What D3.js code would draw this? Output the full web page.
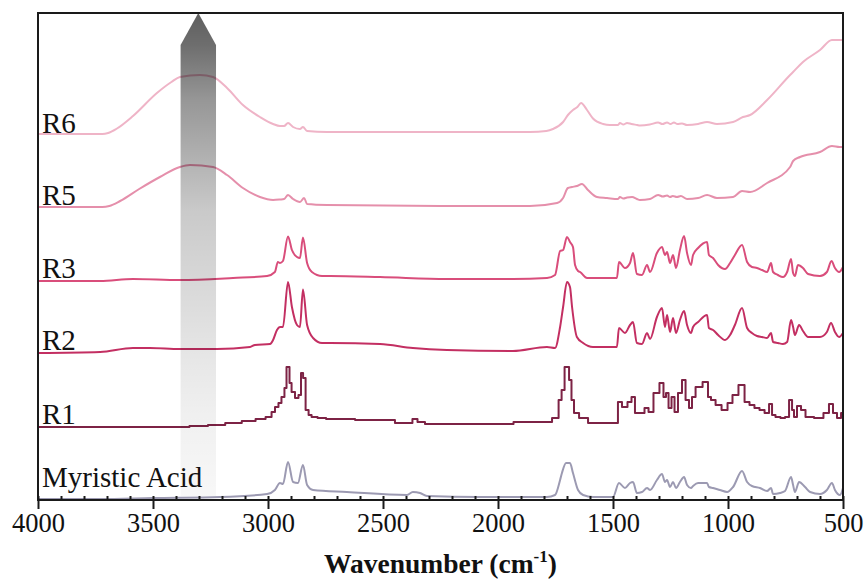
<!DOCTYPE html>
<html>
<head>
<meta charset="utf-8">
<script src="https://cdn.jsdelivr.net/npm/d3@7"></script>
<style>
  html, body { margin: 0; padding: 0; background: #fff; }
  svg { display: block; }
  text { font-family: "Liberation Serif", "Times New Roman", serif; fill: #111; }
</style>
</head>
<body>
<svg id="chart" width="865" height="582"></svg>
<script>
// FTIR spectra, wavenumber (cm-1) vs. absorbance (a.u.), each trace stacked on its own baseline.
const seriesNames = ["Myristic Acid", "R1", "R2", "R3", "R5", "R6"];
const seriesOffsets = [0.01, 0.73, 1.47, 2.19, 2.93, 3.66];
const seriesColors = ["#9c9ab2", "#7d2345", "#c32f62", "#d94d7b", "#e58fab", "#efb4c7"];

const majorTicks = [4000, 3500, 3000, 2500, 2000, 1500, 1000, 500];

const specMA = [[4000,0],[3730,0],[3500,0.01],[3209,0.02],[3004,0.05],[2970,0.09],[2948,0.16],[2935,0.15],[2913,0.37],[2891,0.17],[2870,0.16],[2848,0.34],[2830,0.14],[2804,0.09],[2657,0.07],[2396,0.04],[2370,0.07],[2339,0.06],[2309,0.03],[2078,0.02],[1787,0.02],[1752,0.04],[1730,0.19],[1722,0.26],[1704,0.36],[1687,0.36],[1674,0.26],[1652,0.09],[1630,0.04],[1587,0.02],[1500,0.02],[1474,0.16],[1448,0.11],[1426,0.16],[1413,0.17],[1396,0.06],[1374,0.07],[1352,0.11],[1339,0.09],[1309,0.19],[1287,0.25],[1274,0.17],[1265,0.19],[1252,0.12],[1239,0.17],[1226,0.11],[1209,0.17],[1191,0.22],[1178,0.14],[1161,0.11],[1152,0.13],[1130,0.16],[1091,0.16],[1083,0.12],[1065,0.11],[1035,0.09],[1004,0.07],[978,0.12],[939,0.28],[917,0.17],[896,0.13],[861,0.11],[830,0.08],[813,0.11],[804,0.05],[774,0.06],[752,0.08],[726,0.22],[717,0.14],[709,0.07],[691,0.17],[665,0.12],[643,0.07],[600,0.05],[570,0.09],[548,0.16],[535,0.09],[513,0.04],[500,0.11]];

const specR1 = [[4000,0],[3730,0],[3383,0],[3300,0.01],[3222,0.02],[3150,0.04],[3078,0.06],[3030,0.08],[2991,0.10],[2978,0.15],[2961,0.20],[2948,0.24],[2935,0.30],[2922,0.39],[2917,0.60],[2909,0.60],[2904,0.44],[2891,0.35],[2874,0.29],[2861,0.32],[2852,0.54],[2843,0.49],[2830,0.17],[2817,0.12],[2804,0.10],[2765,0.09],[2730,0.08],[2513,0.07],[2383,0.04],[2361,0.08],[2339,0.05],[2296,0.03],[2078,0.03],[1787,0.05],[1743,0.09],[1730,0.27],[1717,0.37],[1704,0.60],[1695,0.60],[1687,0.47],[1674,0.27],[1665,0.14],[1630,0.09],[1587,0.04],[1483,0.04],[1474,0.25],[1448,0.20],[1426,0.25],[1413,0.30],[1396,0.14],[1374,0.14],[1352,0.19],[1339,0.15],[1309,0.34],[1287,0.44],[1274,0.30],[1265,0.34],[1252,0.19],[1239,0.30],[1226,0.15],[1209,0.34],[1191,0.47],[1178,0.27],[1161,0.19],[1152,0.30],[1130,0.40],[1091,0.45],[1083,0.30],[1065,0.27],[1043,0.22],[1013,0.17],[991,0.24],[970,0.32],[939,0.42],[917,0.25],[896,0.22],[874,0.19],[852,0.17],[830,0.14],[813,0.23],[804,0.12],[783,0.10],[761,0.09],[743,0.10],[726,0.27],[717,0.17],[709,0.10],[691,0.21],[674,0.17],[652,0.10],[600,0.09],[570,0.14],[552,0.23],[535,0.14],[517,0.09],[500,0.14]];

const specR2 = [[4000,0],[3730,0.01],[3587,0.05],[3513,0.05],[3383,0.04],[3222,0.04],[3078,0.06],[3057,0.08],[2991,0.09],[2978,0.13],[2961,0.23],[2948,0.26],[2935,0.26],[2913,0.71],[2896,0.46],[2874,0.28],[2861,0.26],[2848,0.635],[2830,0.28],[2804,0.15],[2765,0.10],[2730,0.10],[2513,0.09],[2370,0.05],[2222,0.03],[1935,0.02],[1787,0.06],[1752,0.05],[1730,0.26],[1717,0.46],[1700,0.71],[1687,0.66],[1678,0.46],[1657,0.16],[1630,0.10],[1587,0.06],[1483,0.06],[1474,0.25],[1448,0.20],[1426,0.28],[1413,0.31],[1396,0.10],[1374,0.09],[1352,0.20],[1339,0.14],[1309,0.36],[1287,0.45],[1274,0.26],[1265,0.38],[1252,0.21],[1239,0.35],[1226,0.20],[1209,0.33],[1191,0.42],[1178,0.28],[1161,0.20],[1152,0.26],[1130,0.31],[1091,0.38],[1083,0.25],[1065,0.23],[1043,0.18],[1013,0.13],[991,0.18],[970,0.28],[939,0.45],[917,0.25],[896,0.20],[874,0.17],[852,0.16],[830,0.15],[813,0.20],[804,0.11],[783,0.10],[761,0.09],[743,0.11],[726,0.33],[717,0.26],[709,0.18],[691,0.28],[674,0.22],[652,0.16],[600,0.16],[570,0.21],[552,0.30],[535,0.21],[517,0.16],[500,0.20]];

const specR3 = [[4000,0],[3730,0],[3587,0.02],[3383,0.01],[3152,0.03],[3004,0.05],[2970,0.09],[2957,0.19],[2948,0.18],[2935,0.20],[2913,0.445],[2896,0.31],[2874,0.24],[2861,0.23],[2848,0.435],[2830,0.18],[2809,0.09],[2765,0.05],[2730,0.05],[2513,0.04],[2222,0.02],[1935,0.02],[1787,0.03],[1752,0.06],[1730,0.30],[1717,0.31],[1700,0.44],[1687,0.39],[1674,0.34],[1665,0.16],[1652,0.10],[1643,0.09],[1613,0.03],[1483,0.03],[1474,0.19],[1448,0.13],[1426,0.18],[1413,0.28],[1396,0.07],[1374,0.06],[1352,0.16],[1339,0.09],[1309,0.28],[1287,0.34],[1274,0.26],[1265,0.29],[1252,0.18],[1239,0.26],[1226,0.13],[1209,0.31],[1191,0.45],[1178,0.28],[1161,0.16],[1152,0.26],[1130,0.33],[1091,0.39],[1083,0.26],[1065,0.23],[1043,0.16],[1013,0.12],[991,0.18],[970,0.26],[939,0.36],[917,0.19],[896,0.14],[874,0.13],[852,0.11],[830,0.09],[813,0.18],[804,0.09],[783,0.06],[761,0.04],[743,0.09],[726,0.22],[717,0.08],[709,0.05],[696,0.16],[674,0.13],[652,0.07],[600,0.05],[570,0.09],[550,0.20],[535,0.13],[517,0.09],[500,0.14]];

const specR5 = [[4000,0],[3720,0],[3690,0.01],[3643,0.06],[3560,0.18],[3470,0.30],[3383,0.40],[3339,0.42],[3239,0.40],[3178,0.32],[3109,0.19],[3035,0.10],[2978,0.07],[2948,0.075],[2930,0.08],[2913,0.12],[2891,0.08],[2861,0.05],[2843,0.09],[2830,0.03],[2743,0.02],[2252,0.01],[1861,0.01],[1743,0.04],[1717,0.09],[1696,0.19],[1678,0.20],[1657,0.21],[1635,0.23],[1609,0.17],[1570,0.10],[1526,0.09],[1478,0.08],[1470,0.10],[1455,0.085],[1439,0.095],[1417,0.10],[1396,0.08],[1383,0.07],[1339,0.08],[1304,0.12],[1283,0.105],[1265,0.115],[1252,0.10],[1240,0.11],[1222,0.10],[1205,0.11],[1178,0.08],[1130,0.09],[1091,0.12],[1048,0.09],[978,0.10],[939,0.16],[904,0.15],[830,0.24],[730,0.40],[717,0.46],[687,0.50],[600,0.55],[548,0.61],[515,0.60],[500,0.60]];

const specR6 = [[4000,0],[3720,0],[3695,0.01],[3660,0.05],[3587,0.18],[3483,0.41],[3420,0.52],[3383,0.57],[3296,0.59],[3239,0.57],[3178,0.46],[3109,0.29],[3035,0.17],[2978,0.10],[2948,0.08],[2930,0.08],[2913,0.11],[2891,0.07],[2861,0.05],[2848,0.07],[2830,0.03],[2743,0.02],[2252,0.02],[1861,0.02],[1790,0.03],[1761,0.05],[1717,0.12],[1696,0.19],[1674,0.24],[1655,0.27],[1639,0.31],[1613,0.24],[1587,0.155],[1543,0.10],[1513,0.09],[1478,0.09],[1470,0.11],[1455,0.095],[1439,0.11],[1420,0.10],[1395,0.09],[1383,0.085],[1340,0.095],[1304,0.115],[1285,0.10],[1265,0.115],[1250,0.10],[1235,0.115],[1220,0.10],[1200,0.105],[1178,0.09],[1130,0.10],[1091,0.12],[1048,0.10],[978,0.12],[935,0.17],[904,0.19],[830,0.34],[730,0.59],[717,0.62],[674,0.72],[600,0.84],[548,0.94],[500,0.94]];

const spectra = [specMA, specR1, specR2, specR3, specR5, specR6];

// ---- layout ----
const svg = d3.select("#chart");
const plotLeft = 38, plotRight = 843, plotTop = 13, plotBottom = 500;

const x = d3.scaleLinear().domain([4000, 500]).range([plotLeft, plotRight]);
const y = d3.scaleLinear().domain([0, 4.87]).range([plotBottom, plotTop]);

// shaded arrow gradient (drawn over the traces, semi-transparent)
const defs = svg.append("defs");
const grad = defs.append("linearGradient")
  .attr("id", "arrowGrad")
  .attr("gradientUnits", "userSpaceOnUse")
  .attr("x1", 0).attr("x2", 0).attr("y1", plotTop).attr("y2", 496);
[[0, 0.63], [0.066, 0.57], [0.18, 0.41], [0.353, 0.26], [0.41, 0.21], [0.595, 0.14], [0.734, 0.09], [0.83, 0.06], [1, 0.03]]
  .forEach(([o, a]) => grad.append("stop").attr("offset", o).attr("stop-color", "#000").attr("stop-opacity", a));

// traces
const curves = [d3.curveMonotoneX, d3.curveStep, d3.curveMonotoneX, d3.curveMonotoneX, d3.curveMonotoneX, d3.curveMonotoneX];
spectra.forEach((data, i) => {
  const line = d3.line()
    .x(d => x(d[0]))
    .y(d => y(d[1] + seriesOffsets[i]))
    .curve(curves[i]);
  svg.append("path")
    .datum(data)
    .attr("d", line)
    .attr("fill", "none")
    .attr("stroke", seriesColors[i])
    .attr("stroke-width", 2)
    .attr("stroke-linejoin", "round");
});

// upward arrow over the O-H stretching region
const aL = x(3380), aR = x(3226), aMid = (aL + aR) / 2;
svg.append("path")
  .attr("d", `M${aL},496 L${aL},45 L${aMid},${plotTop} L${aR},45 L${aR},496 Z`)
  .attr("fill", "url(#arrowGrad)");

// series labels
const labelY = [487, 424, 350, 278, 205, 133];
seriesNames.forEach((name, i) => {
  svg.append("text")
    .attr("x", 42)
    .attr("y", labelY[i])
    .attr("font-size", 29)
    .text(name);
});

// frame
svg.append("rect")
  .attr("x", plotLeft).attr("y", plotTop)
  .attr("width", plotRight - plotLeft).attr("height", plotBottom - plotTop)
  .attr("fill", "none").attr("stroke", "#1a1a1a").attr("stroke-width", 2);

// inner ticks every 100 cm-1
const minorTicks = d3.range(4000, 499, -100);
svg.append("g")
  .attr("transform", `translate(0,${plotBottom})`)
  .call(d3.axisBottom(x).tickValues(minorTicks).tickSize(-4).tickFormat(""))
  .call(g => g.select(".domain").remove())
  .call(g => g.selectAll("line").attr("stroke", "#1a1a1a").attr("stroke-width", 2));

// major ticks crossing the axis, with labels
const xAxis = svg.append("g")
  .attr("transform", `translate(0,${plotBottom})`)
  .call(d3.axisBottom(x).tickValues(majorTicks).tickSize(9).tickFormat(d3.format("d")))
  .call(g => g.select(".domain").remove());
xAxis.selectAll("line").attr("stroke", "#1a1a1a").attr("stroke-width", 2);
xAxis.selectAll("text")
  .attr("y", 32).attr("dy", null)
  .attr("font-size", 26.5)
  .attr("fill", "#111");

// axis title
const title = svg.append("text")
  .attr("x", (plotLeft + plotRight) / 2)
  .attr("y", 573)
  .attr("text-anchor", "middle")
  .attr("font-size", 27.5)
  .attr("font-weight", "bold");
title.append("tspan").text("Wavenumber (cm");
title.append("tspan").attr("font-size", 17).attr("dy", -11).text("-1");
title.append("tspan").attr("dy", 11).text(")");
</script>
</body>
</html>
